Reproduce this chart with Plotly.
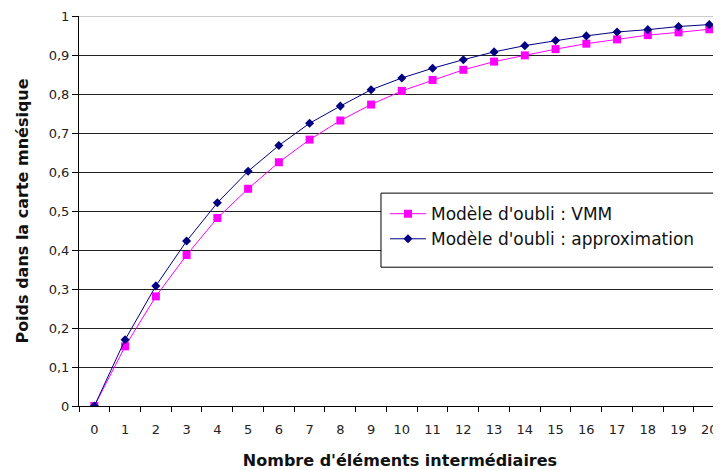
import plotly.graph_objects as go

categories = list(range(0, 21))
vmm = [0.0, 0.153, 0.281, 0.387, 0.482, 0.557, 0.625, 0.683, 0.732, 0.773, 0.808,
       0.836, 0.862, 0.883, 0.899, 0.915, 0.929, 0.940, 0.951, 0.958, 0.966]
approx = [0.0, 0.170, 0.308, 0.423, 0.521, 0.602, 0.668, 0.725, 0.769, 0.811, 0.841,
          0.866, 0.888, 0.908, 0.924, 0.937, 0.949, 0.959, 0.965, 0.973, 0.978]
y_ticks = [0, 0.1, 0.2, 0.3, 0.4, 0.5, 0.6, 0.7, 0.8, 0.9, 1]
series_names = ["Modèle d'oubli : VMM", "Modèle d'oubli : approximation"]

FONT = "DejaVu Sans, Liberation Sans, Arial, sans-serif"

fig = go.Figure()
fig.add_trace(go.Scatter(
    x=categories, y=vmm, name=series_names[0], mode="lines+markers",
    line=dict(color="#FF00FF", width=1),
    marker=dict(symbol="square", size=8, color="#FF00FF"),
))
fig.add_trace(go.Scatter(
    x=categories, y=approx, name=series_names[1], mode="lines+markers",
    line=dict(color="#000080", width=1),
    marker=dict(symbol="diamond", size=7, color="#000080"),
))

# top border of plot area (lighter gray in reference)
fig.add_shape(type="line", xref="paper", yref="y", x0=0, x1=1, y0=1, y1=1,
              line=dict(color="#9a9a9a", width=1), layer="above")
# legend frame (with the roomier padding of the reference)
fig.add_shape(type="rect", xref="paper", yref="paper",
              x0=0.4704, x1=0.9907, y0=0.3559, y1=0.5458,
              line=dict(color="#000", width=1), fillcolor="white", layer="above")

# page body adds an 8px offset, so the figure is 8px smaller than the window
fig.update_layout(
    width=713, height=462,
    margin=dict(l=71, r=0, t=8, b=64),
    paper_bgcolor="white", plot_bgcolor="white",
    separators=", ",
    font=dict(family=FONT, size=13, color="#222"),
    showlegend=True,
    legend=dict(
        x=0.4766, y=0.5381, xanchor="left", yanchor="top",
        bgcolor="rgba(0,0,0,0)", borderwidth=0,
        font=dict(family=FONT, size=17, color="#111"),
        tracegroupgap=0, itemwidth=36,
    ),
    xaxis=dict(
        range=[-0.5, 20.38], tickmode="array", tickvals=categories,
        ticktext=[str(c) for c in categories],
        ticks="outside", ticklen=5, tickcolor="rgba(0,0,0,0)",
        ticklabelstandoff=6,
        showgrid=False, zeroline=False, automargin=False,
        showline=True, linecolor="#000", linewidth=1,
        tickfont=dict(family=FONT, size=13, color="#222"),
        minor=dict(tickvals=[c - 0.5 for c in categories] + [20.5], ticks="outside",
                   ticklen=5, tickcolor="#000", showgrid=False),
        title=dict(text="<b>Nombre d'éléments intermédiaires</b>",
                   font=dict(family=FONT, size=16, color="#111"), standoff=20),
    ),
    yaxis=dict(
        range=[0, 1], tickmode="array", tickvals=y_ticks,
        ticks="outside", ticklen=6, tickcolor="#000",
        showgrid=True, gridcolor="#222", gridwidth=1,
        zeroline=False, automargin=False,
        showline=True, linecolor="#000", linewidth=1,
        tickfont=dict(family=FONT, size=13, color="#222"),
        title=dict(text="<b>Poids dans la carte mnésique</b>",
                   font=dict(family=FONT, size=16, color="#111"), standoff=16),
    ),
)

fig.write_html("out.html")
